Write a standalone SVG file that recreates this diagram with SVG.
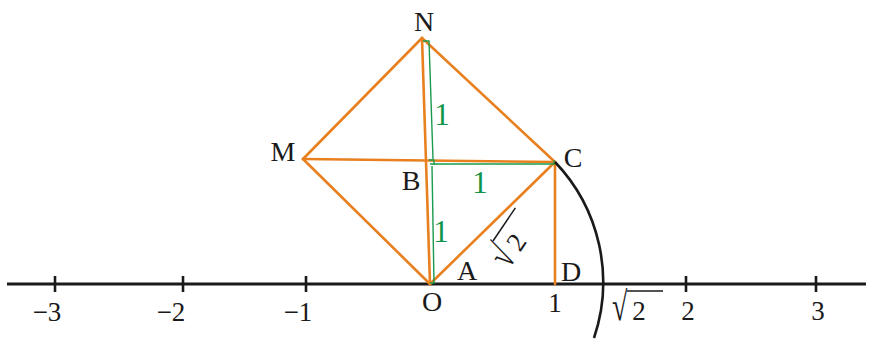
<svg xmlns="http://www.w3.org/2000/svg" width="869" height="340" viewBox="0 0 869 340">
<style>
.lbl{font-family:"Liberation Serif","Times New Roman",serif;font-size:28px;fill:#1a1a1a;text-anchor:middle}
.num{font-family:"Liberation Serif","Times New Roman",serif;font-size:27px;fill:#1a1a1a;text-anchor:middle}
.g{font-family:"Liberation Serif","Times New Roman",serif;font-size:31px;fill:#119447;text-anchor:middle}
.or{stroke:#e8801f;stroke-width:2.6;fill:none;stroke-linecap:round}
.gr{stroke:#1a9a4e;stroke-width:1.4;fill:none}
.ax{stroke:#1a1a1a;stroke-width:3;fill:none}
.tk{stroke:#1a1a1a;stroke-width:2.6}
.rad{font-family:"Liberation Serif","Times New Roman",serif;font-size:28px;fill:#1a1a1a}
</style>
<rect width="869" height="340" fill="#fff"/>
<g id="axis">
<line class="ax" x1="7" y1="284" x2="866" y2="284"/>
<line class="tk" x1="55" y1="276" x2="55" y2="292"/>
<line class="tk" x1="183" y1="276" x2="183" y2="292"/>
<line class="tk" x1="306" y1="276" x2="306" y2="292"/>
<line class="tk" x1="686" y1="276" x2="686" y2="292"/>
<line class="tk" x1="816" y1="276" x2="816" y2="292"/>
<text class="num" x="47" y="321">−3</text>
<text class="num" x="171" y="321">−2</text>
<text class="num" x="298" y="321">−1</text>
<text class="num" x="555" y="312">1</text>
<text class="num" x="688" y="320">2</text>
<text class="num" x="818" y="320">3</text>
</g>
<g id="connectors">
<line class="or" x1="303" y1="159" x2="422" y2="38"/>
<line class="or" x1="422" y1="38" x2="555" y2="162"/>
<line class="or" x1="303" y1="159" x2="430" y2="284"/>
<line class="or" x1="430" y1="284" x2="555" y2="162"/>
<line class="or" x1="303" y1="159" x2="555" y2="162"/>
<line class="or" x1="422" y1="38" x2="430" y2="284"/>
<line class="or" x1="555" y1="162" x2="555" y2="284"/>
<polyline class="gr" points="423,41 429,41 433,159"/>
<polyline class="gr" points="429,160 434,160 434,165"/>
<polyline class="gr" points="430,164 554,164 554,160"/>
<polyline class="gr" points="432,166 434,283 430,283"/>
<path d="M555,162 A174,174 0 0 1 594,338" fill="none" stroke="#1a1a1a" stroke-width="2.6"/>
</g>
<g id="N"><text class="lbl" x="424" y="31">N</text></g>
<g id="M"><text class="lbl" x="283" y="161">M</text></g>
<g id="C"><text class="lbl" x="573" y="167">C</text></g>
<g id="B"><text class="lbl" x="411" y="190">B</text></g>
<g id="A"><text class="lbl" x="467" y="280">A</text></g>
<g id="D"><text class="lbl" x="571" y="281">D</text></g>
<g id="O"><text class="lbl" x="432" y="311">O</text></g>
<g id="len1"><text class="g" x="442" y="125">1</text></g>
<g id="len2"><text class="g" x="480" y="193">1</text></g>
<g id="len3"><text class="g" x="441" y="242">1</text></g>
<g id="sqrt2a" transform="translate(493,241) rotate(-56)">
<text class="rad" transform="translate(-15,29) scale(1,1.45)">√</text>
<text class="num" x="12" y="29">2</text>
<line x1="0" y1="0" x2="40" y2="0" stroke="#1a1a1a" stroke-width="1.5"/>
</g>
<g id="sqrt2b" transform="translate(627,291)">
<text class="rad" transform="translate(-15,29) scale(1,1.45)">√</text>
<text class="num" x="12" y="29">2</text>
<line x1="0" y1="0" x2="36" y2="0" stroke="#1a1a1a" stroke-width="1.5"/>
</g>
</svg>
